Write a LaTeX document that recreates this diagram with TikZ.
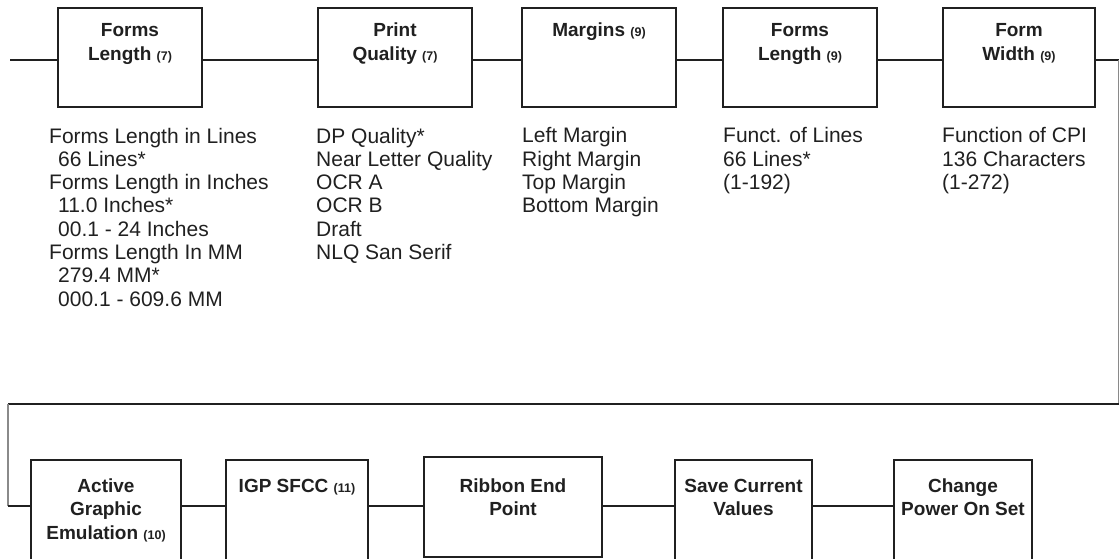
\documentclass[tikz,border=0pt]{standalone}
\usepackage{fontspec}
\setmainfont{Liberation Sans}
\definecolor{ink}{HTML}{202020}
\definecolor{edge}{HTML}{8A8A8A}
\newcommand\smallnum[1]{{\fontsize{12.5}{12.5}\selectfont\bfseries #1}}
\begin{document}
\begin{tikzpicture}[x=1pt,y=-1pt,
  box/.style={draw=ink, line width=2.4pt, inner sep=0pt, rectangle},
  title/.style={anchor=base, align=center, inner sep=0pt, text=ink,
    font=\fontsize{19}{23.5}\selectfont\bfseries},
  list/.style={anchor=base west, align=left, inner sep=0pt, text=ink,
    font=\fontsize{21}{23.3}\selectfont},
  conn/.style={draw=ink, line width=2pt},
  side/.style={draw=edge, line width=1.6pt}]
\useasboundingbox (0,0) rectangle (1120,559);
% rows (connector heights and last-line baselines of titles)
\coordinate (r1) at (0,60);
\coordinate (r2) at (0,506);
\coordinate (t1a) at (0,37);
\coordinate (t1b) at (0,60.5);
\coordinate (t2a) at (0,492);
\coordinate (t2b) at (0,515.5);
\coordinate (t2c) at (0,539);
% top row boxes
\node[box, minimum width=144, minimum height=99] (b1) at (130,57.5) {};
\node[box, minimum width=154, minimum height=99] (b2) at (395,57.5) {};
\node[box, minimum width=154, minimum height=99] (b3) at (599,57.5) {};
\node[box, minimum width=154, minimum height=99] (b4) at (800,57.5) {};
\node[box, minimum width=152, minimum height=99] (b5) at (1019,57.5) {};
% bottom row boxes
\node[box, minimum width=150, minimum height=120] (c1) at (106,520) {};
\node[box, minimum width=142, minimum height=120] (c2) at (297,520) {};
\node[box, minimum width=178, minimum height=100] (c3) at (513,507) {};
\node[box, minimum width=137, minimum height=120] (c4) at (743.5,520) {};
\node[box, minimum width=138, minimum height=120] (c5) at (963,520) {};
% titles
\node[title] (tb1) at (b1 |- t1b) {Forms\\Length \smallnum{(7)}};
\node[title] (tb2) at (b2 |- t1b) {Print\\Quality \smallnum{(7)}};
\node[title] (tb3) at (b3 |- t1a) {Margins \smallnum{(9)}};
\node[title] (tb4) at (b4 |- t1b) {Forms\\Length \smallnum{(9)}};
\node[title] (tb5) at (b5 |- t1b) {Form\\Width \smallnum{(9)}};
\node[title] (tc1) at (c1 |- t2c) {Active\\Graphic\\Emulation \smallnum{(10)}};
\node[title] (tc2) at (c2 |- t2a) {IGP SFCC \smallnum{(11)}};
\node[title] (tc3) at (c3 |- t2b) {Ribbon End\\Point};
\node[title] (tc4) at (c4 |- t2b) {Save Current\\Values};
\node[title] (tc5) at (c5 |- t2b) {Change\\Power On Set};
% option lists (anchored at the baseline of their last line)
\node[list] (l1) at (49,306.1) {Forms Length in Lines\\\hspace*{9pt}66 Lines*\\Forms Length in Inches\\\hspace*{9pt}11.0 Inches*\\\hspace*{9pt}00.1 - 24 Inches\\Forms Length In MM\\\hspace*{9pt}279.4 MM*\\\hspace*{9pt}000.1 - 609.6 MM};
\node[list] (l2) at (316,259.5) {DP Quality*\\Near Letter Quality\\OCR A\\OCR B\\Draft\\NLQ San Serif};
\node[list] (l3) at (522,212.9) {Left Margin\\Right Margin\\Top Margin\\Bottom Margin};
\node[list] (l4) at (723,189.6) {Funct. of Lines\\66 Lines*\\(1-192)};
\node[list] (l5) at (942,189.6) {Function of CPI\\136 Characters\\(1-272)};
% connectors
\coordinate (start) at (10,60);
\coordinate (ne) at (1118.6,60);
\coordinate (nr) at (1118.6,404.3);
\coordinate (nl) at (8,404.3);
\coordinate (sw) at (8,506);
\draw[conn] (start) -- (b1.west |- r1);
\draw[conn] (b1.east |- r1) -- (b2.west |- r1);
\draw[conn] (b2.east |- r1) -- (b3.west |- r1);
\draw[conn] (b3.east |- r1) -- (b4.west |- r1);
\draw[conn] (b4.east |- r1) -- (b5.west |- r1);
\draw[conn] (b5.east |- r1) -- (ne);
\draw[side] (ne) -- (nr);
\draw[conn] (nr) -- (nl);
\draw[side] (nl) -- (sw);
\draw[conn] (sw) -- (c1.west |- r2);
\draw[conn] (c1.east |- r2) -- (c2.west |- r2);
\draw[conn] (c2.east |- r2) -- (c3.west |- r2);
\draw[conn] (c3.east |- r2) -- (c4.west |- r2);
\draw[conn] (c4.east |- r2) -- (c5.west |- r2);
\end{tikzpicture}
\end{document}
